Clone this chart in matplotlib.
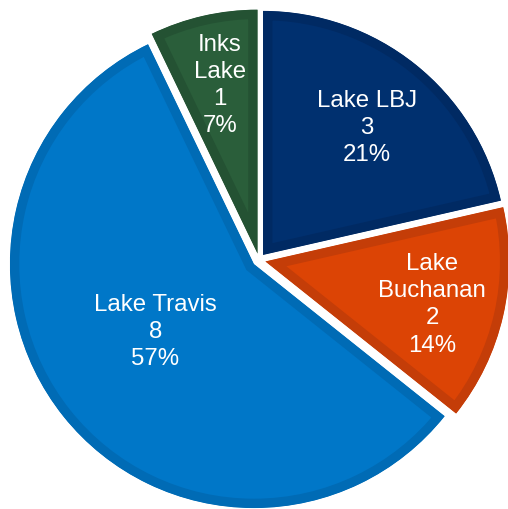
import numpy as np
import matplotlib
matplotlib.use("Agg")
import matplotlib.pyplot as plt

# ---- data ----
labels = ["Lake LBJ", "Lake\nBuchanan", "Lake Travis", "Inks\nLake"]
values = [3, 2, 8, 1]

# ---- style ----
fill_colors = ["#00306F", "#DC4405", "#0077C8", "#2A5E3A"]
edge_colors = ["#002A63", "#C43D08", "#006BB5", "#245233"]
label_dist = [0.682, 0.703, 0.483, 0.72]
label_ang_off = [0, -0.6, -5.2, -0.5]
text_dy = -2.5

W, H = 508, 510
fig = plt.figure(figsize=(W / 100, H / 100), dpi=100)
ax = fig.add_axes([0, 0, 1, 1])
center = (259, 249)
radius = 244
explode = [6.5] * len(values)   # absolute offset in data units (pixels)

wedges, _ = ax.pie(values, colors=fill_colors, startangle=90, counterclock=False,
                   explode=explode, radius=radius, center=center,
                   wedgeprops=dict(linewidth=0))
total = sum(values)
for i, w in enumerate(wedges):
    w.set_edgecolor(edge_colors[i])
    w.set_linewidth(13.5)
    w.set_clip_on(True)
    w.set_clip_path(w)
    mid = np.deg2rad((w.theta1 + w.theta2) / 2 + label_ang_off[i])
    cx, cy = w.center
    r = label_dist[i] * radius
    pct = round(100 * values[i] / total)
    ax.text(cx + r * np.cos(mid), cy + r * np.sin(mid) + text_dy,
            f"{labels[i]}\n{values[i]}\n{pct}%",
            ha="center", va="center", color="white", fontsize=17.3,
            family=["Liberation Sans", "DejaVu Sans"], linespacing=1.3)

ax.set_xlim(0, W)
ax.set_ylim(0, H)
ax.set_aspect("auto")
ax.axis("off")
fig.savefig("out.png", dpi=100, facecolor="white")
